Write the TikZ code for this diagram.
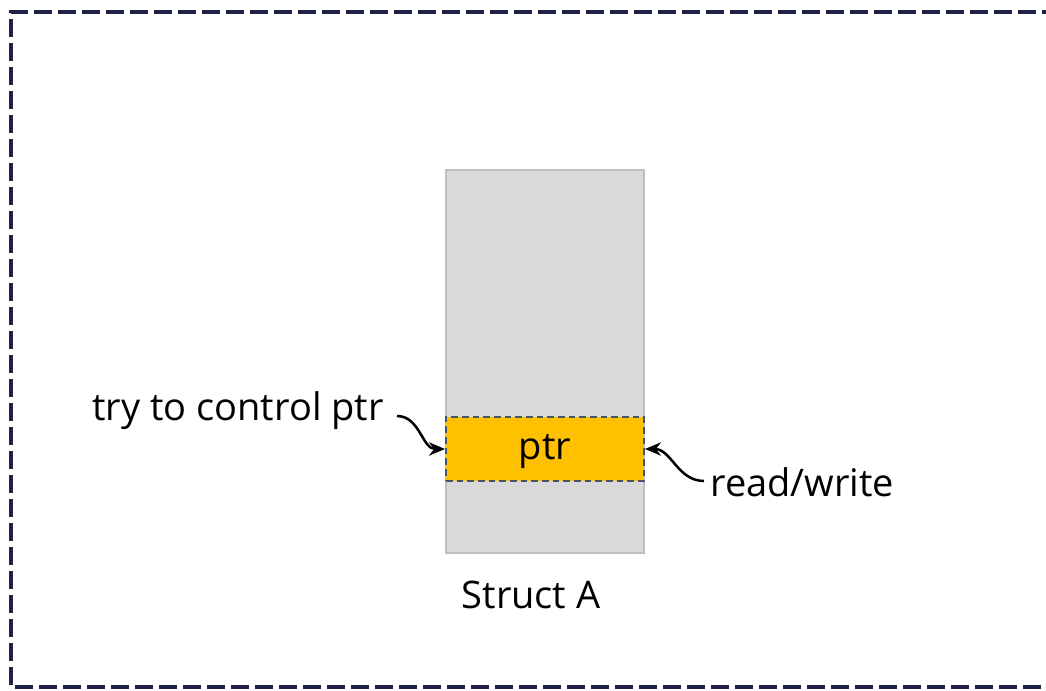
\documentclass[tikz,border=0pt]{standalone}
\usepackage{fontspec}
\setmainfont{Open Sans}
\usetikzlibrary{arrows.meta}
\definecolor{framenavy}{HTML}{1F2246}
\definecolor{structgray}{HTML}{D9D9D9}
\definecolor{structedge}{HTML}{BFBFBF}
\definecolor{ptrfill}{HTML}{FFC000}
\definecolor{ptredge}{HTML}{44546A}
\tikzset{
  frame/.style={draw=framenavy, line width=3pt, dash pattern=on 13.5pt off 4.5pt},
  structbox/.style={draw=structedge, fill=structgray, line width=1.2pt},
  ptrbox/.style={draw=ptredge, fill=ptrfill, line width=1.5pt, dash pattern=on 5pt off 3pt},
  lbl/.style={font=\fontsize{28.5}{33}\selectfont, inner sep=0pt},
  pointer/.style={-{Stealth[length=12pt,width=10pt]}, line width=1.9pt, black}
}
\begin{document}
\begin{tikzpicture}[x=0.75pt,y=-0.75pt]
  \useasboundingbox (0,0) rectangle (1046,690);
  % outer dashed frame (right side runs past the page edge)
  \draw[frame] (1060,12) -- (11,12) -- (11,687) -- (1060,687);
  % struct body and its pointer field
  \node[structbox, minimum width=148.5pt, minimum height=287pt, inner sep=0pt] (structA) at (545,361.5) {};
  \node[ptrbox, minimum width=148.5pt, minimum height=48pt, inner sep=0pt, lbl,
        text height=21pt, text depth=6pt] (ptr) at (545,449) {ptr};
  % labels
  \node[lbl, anchor=east] (ctl) at (384,411) {try to control ptr};
  \node[lbl, anchor=west] (rw) at (710,482) {read/write};
  \node[lbl] (name) at (531,595) {Struct A};
  % connectors
  \coordinate (ctlend) at (397,416);
  \coordinate (rwend) at (704,481);
  \draw[pointer] (ctlend) to[out=0,in=180] (ptr.west);
  \draw[pointer] (rwend) to[out=180,in=0] (ptr.east);
\end{tikzpicture}
\end{document}
